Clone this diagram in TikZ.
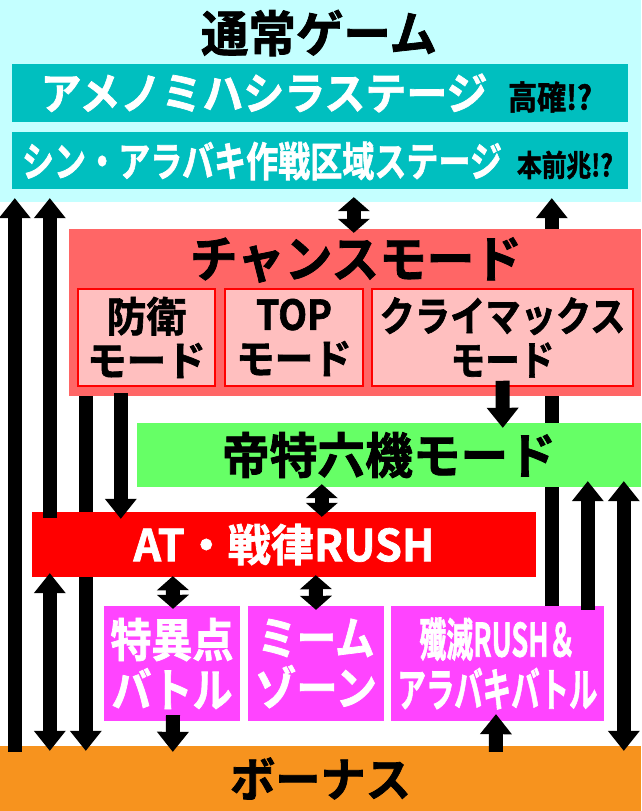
\documentclass[tikz,border=0pt]{standalone}
\usepackage{fontspec}
\usepackage{graphicx}
\newfontfamily\jpfont{Noto Sans CJK JP Bold}[FakeBold=1.6]
\usetikzlibrary{arrows.meta}
\pgfdeclarelayer{back}
\pgfdeclarelayer{behind}
\pgfsetlayers{back,behind,main}
\definecolor{normalbg}{HTML}{C4FFFF}
\definecolor{stagebg}{HTML}{00BFBF}
\definecolor{chancebg}{HTML}{FF6666}
\definecolor{modebg}{HTML}{FFBFBF}
\definecolor{teitokubg}{HTML}{66FF66}
\definecolor{rushbg}{HTML}{FF0000}
\definecolor{battlebg}{HTML}{FF44FF}
\definecolor{bonusbg}{HTML}{F7931E}
\newcommand{\fsz}[2]{\jpfont\fontsize{#1}{#2}\selectfont}
\newcommand{\txtw}[2]{\resizebox{#1}{\height}{#2}}
\tikzset{
  area/.style = {rectangle, inner sep=0pt},
  txt/.style = {inner sep=0pt},
  stagebox/.style = {area, fill=stagebg, minimum width=616pt},
  modebox/.style = {area, fill=modebg, draw=red, line width=1.5pt, minimum height=97pt, align=center, font=\fsz{41}{44}},
  battlebox/.style = {area, fill=battlebg, minimum height=115pt, align=center, text=white, font=\fsz{46}{50}},
  arrow/.style = {line width=14pt, -{Triangle[width=32pt,length=20pt,line width=0pt]}},
  dblarrow/.style = {line width=14pt, {Triangle[width=32pt,length=14pt,line width=0pt]}-{Triangle[width=32pt,length=14pt,line width=0pt]}},
  longdbl/.style = {line width=14pt, {Triangle[width=32pt,length=20pt,line width=0pt]}-{Triangle[width=32pt,length=20pt,line width=0pt]}}
}
\begin{document}
\begin{tikzpicture}[x=1pt, y=-1pt]
\useasboundingbox (0,0) rectangle (641,811);

\begin{pgfonlayer}{back}
  \node[area, fill=normalbg, minimum width=641pt, minimum height=202pt] (normal) at (320.5,101) {};
  \node[area, fill=bonusbg, minimum width=641pt, minimum height=65pt, font=\fsz{47}{47}] (bonus) at (320.5,778.5) {\txtw{181pt}{ボーナス}};
\end{pgfonlayer}

% normal game
\node[txt, font=\fsz{49}{49}] (normaltitle) at (319,33) {\txtw{236pt}{通常ゲーム}};
\node[stagebox, minimum height=58pt] (amenomi) at (320,93) {};
\node[txt, font=\fsz{44}{44}, text=white] (amenomitext) at (264,93) {\txtw{447pt}{アメノミハシラステージ}};
\node[txt, font=\fsz{33}{33}] (amenominote) at (550,97) {\txtw{84pt}{高確!?}};
\node[stagebox, minimum height=57pt] (shin) at (320,160.5) {};
\node[txt, font=\fsz{41}{41}, text=white] (shintext) at (262,161) {\txtw{480pt}{シン・アラバキ作戦区域ステージ}};
\node[txt, font=\fsz{30}{30}] (shinnote) at (565,165) {\txtw{96pt}{本前兆!?}};

% chance mode
\node[area, fill=chancebg, minimum width=572pt, minimum height=167pt] (chance) at (355,312.5) {};
\node[txt, font=\fsz{50}{50}] (chancetitle) at (356,260) {\txtw{332pt}{チャンスモード}};
\node[modebox, minimum width=137pt] (defense) at (146.5,337.5) {\txtw{80pt}{防衛}\\\txtw{119pt}{モード}};
\node[modebox, minimum width=138pt] (topmode) at (294,337.5) {\txtw{76pt}{TOP}\\\txtw{116pt}{モード}};
\node[modebox, minimum width=261pt] (climax) at (502.5,337.5) {\txtw{246pt}{クライマックス}\\\txtw{104pt}{モード}};

\node[area, fill=teitokubg, minimum width=504pt, minimum height=64pt, font=\fsz{49}{49}] (teitoku) at (389,455) {\txtw{334pt}{帝特六機モード}};
\node[area, fill=rushbg, minimum width=504pt, minimum height=65pt, font=\fsz{44}{44}, text=white] (rush) at (284,544.5) {\txtw{301pt}{AT・戦律RUSH}};

% battles
\node[battlebox, minimum width=136pt] (singular) at (172,663.5) {\txtw{123pt}{特異点}\\\txtw{121pt}{バトル}};
\node[battlebox, minimum width=136pt] (meme) at (316,663.5) {\txtw{117pt}{ミーム}\\\txtw{122pt}{ゾーン}};
\node[battlebox, minimum width=213pt] (senmetsu) at (497.5,663.5) {\txtw{156pt}{殲滅RUSH＆}\\\txtw{200pt}{アラバキバトル}};

% lines behind the boxes
\begin{pgfonlayer}{behind}
  \draw[arrow] ([xshift=17pt,yshift=3pt]chance.south west) -- ([xshift=86pt,yshift=-5pt]bonus.north west);
  \draw[arrow] ([xshift=161pt,yshift=-4pt]senmetsu.north west) -- ([xshift=552pt,yshift=4pt]normal.south west);
\end{pgfonlayer}

\draw[arrow] ([xshift=15pt,yshift=-6pt]bonus.north west) -- ([xshift=15pt,yshift=4pt]normal.south west);
\draw[arrow] ([xshift=18pt,yshift=-6pt]rush.north west) -- ([xshift=50pt,yshift=4pt]normal.south west);
\draw[longdbl] ([xshift=18pt,yshift=4pt]rush.south west) -- ([xshift=50pt,yshift=-5pt]bonus.north west);
\draw[arrow] ([xshift=52pt,yshift=3pt]chance.south west) -- ([xshift=89pt,yshift=-7pt]rush.north west);
\draw[dblarrow] ([xshift=354pt,yshift=5pt]normal.south west) -- ([xshift=285pt,yshift=-4pt]chance.north west);
\draw[arrow] ([yshift=6pt]climax.south) -- ([xshift=366pt,yshift=-5pt]teitoku.north west);
\draw[dblarrow] ([xshift=185pt,yshift=3pt]teitoku.south west) -- ([xshift=290pt,yshift=-5pt]rush.north west);
\draw[dblarrow] ([xshift=141pt,yshift=1pt]rush.south west) -- ([xshift=1pt,yshift=-3pt]singular.north);
\draw[dblarrow] ([xshift=284pt,yshift=2pt]rush.south west) -- ([yshift=-4pt]meme.north);
\draw[arrow] ([xshift=1pt,yshift=6pt]singular.south) -- ([xshift=173pt,yshift=-6pt]bonus.north west);
\draw[arrow] ([xshift=496pt,yshift=-6pt]bonus.north west) -- ([xshift=-1.5pt,yshift=7pt]senmetsu.south);
\draw[arrow] ([xshift=197pt,yshift=-4pt]senmetsu.north west) -- ([xshift=451pt,yshift=6pt]teitoku.south west);
\draw[longdbl] ([xshift=487pt,yshift=6pt]teitoku.south west) -- ([xshift=624pt,yshift=-5pt]bonus.north west);
\end{tikzpicture}
\end{document}
